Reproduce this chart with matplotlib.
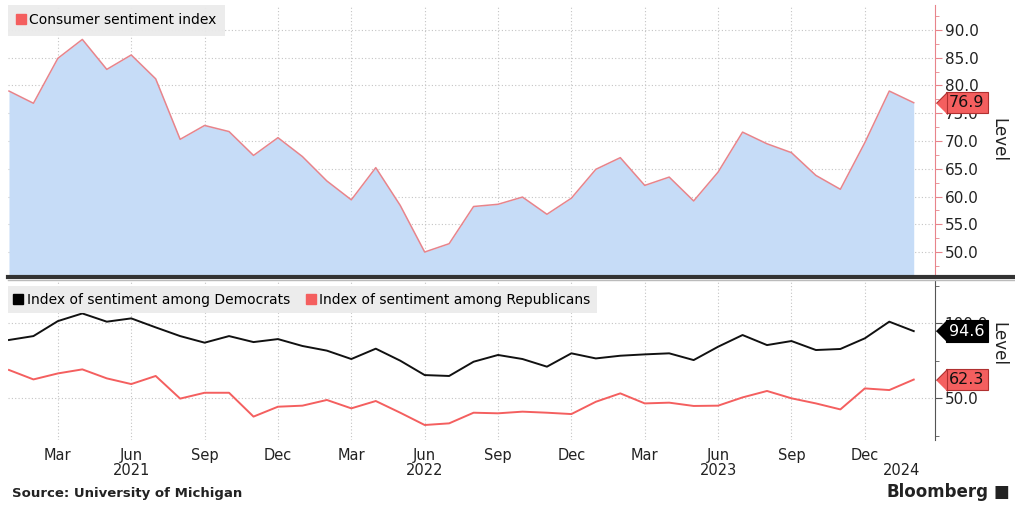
import matplotlib
matplotlib.use("Agg")
import matplotlib.pyplot as plt
from matplotlib.lines import Line2D
from matplotlib import transforms

# Monthly data, Jan 2021 .. Feb 2024 ------------------------------------
consumer = [79.0, 76.8, 84.9, 88.3, 82.9, 85.5, 81.2, 70.3, 72.8, 71.7, 67.4, 70.6,
            67.2, 62.8, 59.4, 65.2, 58.4, 50.0, 51.5, 58.2, 58.6, 59.9, 56.8, 59.7,
            64.9, 67.0, 62.0, 63.5, 59.2, 64.4, 71.6, 69.5, 67.9, 63.8, 61.3, 69.7,
            79.0, 76.9]
democrats = [88.7, 91.3, 101.3, 106.4, 100.9, 103.1, 97.1, 91.3, 86.9, 91.3, 87.3, 89.3,
             84.7, 81.6, 76.0, 82.9, 74.9, 65.3, 64.7, 74.2, 78.7, 76.0, 70.9, 79.8,
             76.4, 78.2, 79.1, 79.8, 75.3, 84.2, 92.0, 85.3, 88.0, 82.0, 82.7, 89.8,
             100.9, 94.6]
republicans = [68.7, 62.4, 66.4, 69.1, 63.1, 59.3, 64.7, 49.6, 53.5, 53.5, 37.6, 44.2,
               44.9, 48.7, 43.1, 48.0, 40.2, 32.0, 33.1, 40.2, 39.8, 40.9, 40.2, 39.3,
               47.5, 53.1, 46.4, 46.9, 44.7, 44.9, 50.4, 54.7, 49.8, 46.4, 42.4, 56.4,
               55.3, 62.3]
months = list(range(len(consumer)))

month_ticks = [2, 5, 8, 11, 14, 17, 20, 23, 26, 29, 32, 35]
month_labels = ["Mar", "Jun", "Sep", "Dec"] * 3
year_pos = [5, 17, 29, 36.5]
year_labels = ["2021", "2022", "2023", "2024"]

top_ticks = [50, 55, 60, 65, 70, 75, 80, 85, 90]
bot_ticks = [50, 100]

FILL = "#c6dcf7"
PINK = "#e8848b"
RED = "#f45f5f"
GRID = "#c4c4c4"
TXT = "#222222"

fig = plt.figure(figsize=(10.15, 5.05), dpi=100)
W, H = 1015, 505


def box(l, t, r, b):
    return [l / W, 1 - b / H, (r - l) / W, (b - t) / H]


ax1 = fig.add_axes(box(8, 5, 935, 275))
ax2 = fig.add_axes(box(8, 280, 935, 440))

for ax in (ax1, ax2):
    ax.set_xlim(-0.04, 37.87)
    for s in ("left", "top", "bottom"):
        ax.spines[s].set_visible(False)
    ax.yaxis.tick_right()
    ax.yaxis.set_label_position("right")
    ax.set_xticks(month_ticks)
    ax.grid(True, axis="both", color=GRID, lw=0.8, ls=(0, (1, 2)))
    ax.tick_params(axis="x", length=0)
    ax.tick_params(axis="y", which="both", direction="out", labelsize=11,
                   labelcolor=TXT, pad=2)
    ax.set_axisbelow(True)

# top panel ---------------------------------------------------------------
ax1.set_ylim(45.86, 94.5)
ax1.fill_between(months, consumer, 0, color=FILL, lw=0)
ax1.plot(months, consumer, color=PINK, lw=1.1)
ax1.set_yticks(top_ticks)
ax1.set_yticks([47.5, 52.5, 57.5, 62.5, 67.5, 72.5, 77.5, 82.5, 87.5, 92.5], minor=True)
ax1.set_yticklabels([f"{t:.1f}" for t in top_ticks])
ax1.tick_params(axis="y", which="major", length=5, color=PINK)
ax1.tick_params(axis="y", which="minor", length=3, color=PINK)
ax1.spines["right"].set_color(PINK)
ax1.set_xticklabels([])
ax1.set_ylabel("Level", rotation=270, fontsize=12, color=TXT)
ax1.yaxis.set_label_coords(1.078, 0.5)

leg1 = ax1.legend([Line2D([], [], marker="s", ls="", color=RED, ms=7)],
                  ["Consumer sentiment index"], loc="upper left",
                  bbox_to_anchor=(0, 1), borderaxespad=0, fontsize=10,
                  handlelength=0.6, handletextpad=0.3, borderpad=0.6,
                  frameon=True, fancybox=False)
leg1.get_frame().set_facecolor("#ebebeb")
leg1.get_frame().set_edgecolor("none")
leg1.get_frame().set_alpha(0.95)

# bottom panel ------------------------------------------------------------
ax2.set_ylim(22, 128.7)
ax2.plot(months, democrats, color="#111111", lw=1.4)
ax2.plot(months, republicans, color=RED, lw=1.4)
ax2.set_yticks(bot_ticks)
ax2.set_yticks([25, 75, 125], minor=True)
ax2.set_yticklabels([f"{t:.1f}" for t in bot_ticks])
ax2.tick_params(axis="y", which="major", length=5, color="#555555")
ax2.tick_params(axis="y", which="minor", length=3, color="#555555")
ax2.spines["right"].set_color("#555555")
ax2.set_ylabel("Level", rotation=270, fontsize=12, color=TXT)
ax2.yaxis.set_label_coords(1.078, 0.6)
ax2.set_xticklabels(month_labels, fontsize=10.5, color=TXT)
ax2.tick_params(axis="x", pad=6)
for p, lab in zip(year_pos, year_labels):
    ax2.text(p, -0.19, lab, transform=transforms.blended_transform_factory(ax2.transData, ax2.transAxes),
             ha="center", va="center", fontsize=10.5, color=TXT)

leg2 = ax2.legend([Line2D([], [], marker="s", ls="", color="#000000", ms=7),
                   Line2D([], [], marker="s", ls="", color=RED, ms=7)],
                  ["Index of sentiment among Democrats", "Index of sentiment among Republicans"],
                  loc="upper left", bbox_to_anchor=(0, 0.96), borderaxespad=0, ncol=2,
                  fontsize=10, handlelength=0.6, handletextpad=0.3, columnspacing=1.2,
                  borderpad=0.45, frameon=True, fancybox=False)
leg2.get_frame().set_facecolor("#ebebeb")
leg2.get_frame().set_edgecolor("none")
leg2.get_frame().set_alpha(0.95)


# last-value tags ------------------------------------------------------------
def tag(ax, v, fc, tc, ec):
    tr = transforms.blended_transform_factory(ax.transAxes, ax.transData)
    ax.annotate(f"{v:.1f}", xy=(1, v), xycoords=tr, xytext=(14, 0),
                textcoords="offset pixels", ha="left", va="center", fontsize=11.5,
                color=tc, annotation_clip=False, zorder=20,
                bbox=dict(boxstyle="square,pad=0.2", fc=fc, ec=ec, lw=0.8))
    off = transforms.offset_copy(tr, fig=fig, x=12, y=0, units="dots")
    ax.plot([1], [v], transform=off, marker=[(-1, 0), (0, 1), (0, -1)], ms=16,
            color=fc, mec=ec, mew=0.8, clip_on=False, zorder=21)


tag(ax1, consumer[-1], RED, "#111111", "#b03030")
tag(ax2, democrats[-1], "#000000", "#ffffff", "#000000")
tag(ax2, republicans[-1], RED, "#111111", "#b03030")

# separator between panels
fig.add_artist(Line2D([8 / W, 1], [1 - 277 / H] * 2, color="#333333", lw=3))
fig.add_artist(Line2D([8 / W, 1], [1 - 279.5 / H] * 2, color="#bbbbbb", lw=1))

fig.text(12 / W, 1 - 493 / H, "Source: University of Michigan", fontsize=9.5,
         fontweight="bold", color=TXT, va="center", ha="left")
fig.text(988 / W, 1 - 492 / H, "Bloomberg", fontsize=12, fontweight="bold",
         color=TXT, va="center", ha="right")
fig.text(1001 / W, 1 - 492 / H, "\u25A0", fontsize=12, color=TXT, va="center", ha="center")

fig.savefig("out.png", dpi=100, facecolor="white")
